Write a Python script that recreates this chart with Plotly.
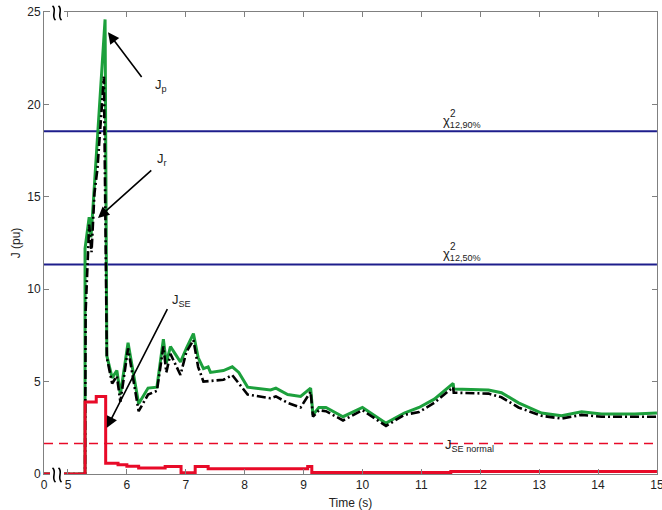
import plotly.graph_objects as go

# ---- data -------------------------------------------------------------
# J_p (green, solid)
jp_t = [0.0, 5.29, 5.29, 5.36, 5.39, 5.42, 5.63, 5.66, 5.75, 5.83, 5.89, 6.02,
        6.20, 6.36, 6.51, 6.62, 6.67, 6.74, 6.82, 6.91, 7.01, 7.13, 7.21, 7.30,
        7.38, 7.42, 7.64, 7.79, 7.90, 8.05, 8.44, 8.53, 8.73, 8.95, 9.12, 9.16,
        9.26, 9.38, 9.67, 10.00, 10.40, 10.71, 10.96, 11.22, 11.54, 11.55, 12.14,
        12.36, 12.65, 13.04, 13.38, 13.72, 14.06, 14.62, 15.00]
jp_v = [0.0, 0.0, 12.2, 13.9, 12.8, 14.2, 24.6, 6.4, 5.2, 5.6, 4.3, 7.1,
        3.8, 4.65, 4.7, 7.3, 6.0, 6.9, 6.5, 6.06, 6.8, 7.6, 6.3, 5.7,
        5.8, 5.5, 5.6, 5.8, 5.5, 4.7, 4.55, 4.65, 4.3, 4.2, 4.65, 3.2,
        3.6, 3.6, 3.1, 3.6, 2.75, 3.3, 3.6, 4.05, 4.9, 4.6, 4.55,
        4.4, 3.85, 3.3, 3.15, 3.37, 3.25, 3.25, 3.3]

# J_r (black, dash-dot)
jr_t = [0.0, 5.29, 5.30, 5.33, 5.36, 5.40, 5.45, 5.50, 5.61, 5.66, 5.75, 5.83,
        5.89, 6.02, 6.20, 6.36, 6.51, 6.62, 6.67, 6.74, 6.82, 6.91, 7.01, 7.13,
        7.21, 7.30, 7.64, 7.79, 8.05, 8.44, 8.53, 8.73, 8.95, 9.12, 9.16, 9.26,
        9.38, 9.67, 10.00, 10.40, 10.71, 10.96, 11.22, 11.54, 11.55, 12.14, 12.36,
        12.65, 13.04, 13.38, 13.72, 14.06, 14.62, 15.00]
jr_v = [0.0, 0.0, 8.8, 11.0, 13.5, 12.0, 15.2, 16.5, 21.5, 6.3, 4.9, 5.3,
        3.9, 6.8, 3.4, 4.3, 4.5, 6.9, 5.5, 6.5, 6.0, 5.36, 6.6, 7.25,
        5.8, 5.0, 5.1, 5.35, 4.3, 4.1, 4.2, 3.85, 3.6, 4.45, 3.1, 3.45,
        3.4, 2.9, 3.45, 2.6, 3.2, 3.35, 3.85, 4.7, 4.4, 4.35, 4.15,
        3.6, 3.15, 3.0, 3.2, 3.1, 3.1, 3.1]

# J_SE (red, step)
jse_t = [0.0, 5.29, 5.48, 5.64, 5.85, 6.00, 6.20, 6.65, 6.92, 7.16, 7.38, 9.07,
         9.14, 11.50, 15.00]
jse_v = [0.0, 3.9, 4.2, 0.58, 0.5, 0.42, 0.32, 0.4, 0.07, 0.4, 0.28, 0.4,
         0.08, 0.13, 0.13]

# thresholds
chi2_90 = 18.55
chi2_50 = 11.34
jse_normal = 1.65

x_ticks = [0, 5, 6, 7, 8, 9, 10, 11, 12, 13, 14, 15]
y_ticks = [0, 5, 10, 15, 20, 25]

# ---- broken time axis: 0..5 s squeezed into a short stub --------------
AX_START = 4.593   # axis position of t = 0


def axis_pos(t):
    return AX_START + t * (5 - AX_START) / 5 if t < 5 else t


def to_axis(ts):
    return [axis_pos(t) for t in ts]


GREEN = "rgb(28,160,60)"
RED = "rgb(232,10,40)"
NAVY = "rgb(30,30,140)"
FONT = "Liberation Sans, Arial, sans-serif"

W, H = 662, 510
ML, MR, MT, MB = 44, 5, 12, 36
PW, PH = W - ML - MR, H - MT - MB

fig = go.Figure()
x_full = [axis_pos(0), 15]

fig.add_trace(go.Scatter(x=x_full, y=[chi2_90] * 2, mode="lines",
                         line=dict(color=NAVY, width=2), showlegend=False))
fig.add_trace(go.Scatter(x=x_full, y=[chi2_50] * 2, mode="lines",
                         line=dict(color=NAVY, width=2), showlegend=False))
fig.add_trace(go.Scatter(x=x_full, y=[jse_normal] * 2, mode="lines",
                         line=dict(color=RED, width=1.5, dash="9px,6px"),
                         showlegend=False))
fig.add_trace(go.Scatter(x=to_axis(jp_t), y=jp_v, mode="lines",
                         line=dict(color=GREEN, width=3), showlegend=False))
fig.add_trace(go.Scatter(x=to_axis(jr_t), y=jr_v, mode="lines",
                         line=dict(color="black", width=2.6,
                                   dash="9px,3px,2px,3px"),
                         showlegend=False))
fig.add_trace(go.Scatter(x=to_axis(jse_t), y=jse_v, mode="lines",
                         line=dict(color=RED, width=3, shape="hv"),
                         showlegend=False))

axis_common = dict(showline=True, linecolor="#808080", linewidth=1,
                   mirror="ticks", ticks="inside", ticklen=5,
                   tickcolor="#808080", showgrid=False, zeroline=False,
                   automargin=False, ticklabeloverflow="allow",
                   tickfont=dict(family=FONT, size=12, color="#222"))

fig.update_xaxes(range=[AX_START, 15.001], tickmode="array",
                 tickvals=to_axis(x_ticks), ticktext=[str(v) for v in x_ticks],
                 title=dict(text="Time (s)", standoff=8,
                            font=dict(family=FONT, size=12, color="#222")),
                 **axis_common)
fig.update_yaxes(range=[0, 25], tickmode="array", tickvals=y_ticks,
                 ticktext=[str(v) for v in y_ticks],
                 title=dict(text="J (pu)", standoff=4,
                            font=dict(family=FONT, size=12, color="#222")),
                 **axis_common)

ann = []


def arrow(head, tail):
    ann.append(dict(x=head[0], y=head[1], ax=tail[0], ay=tail[1],
                    xref="x", yref="y", axref="x", ayref="y", text="",
                    showarrow=True, arrowhead=2, arrowsize=1.4,
                    arrowwidth=1.6, arrowcolor="black"))


def label(x, y, text, anchor="left", size=12):
    ann.append(dict(x=x, y=y, xref="x", yref="y", text=text,
                    showarrow=False, xanchor=anchor, yanchor="middle",
                    font=dict(family=FONT, size=size, color="#222")))


arrow((5.68, 23.9), (6.27, 21.4))
label(6.44, 21.0, "J<sub>p</sub>", size=13)
arrow((5.51, 13.85), (6.44, 16.5))
label(6.48, 17.0, "J<sub>r</sub>", size=13)
arrow((5.66, 2.5), (6.70, 9.0))
label(6.74, 9.4, "J<sub>SE</sub>", size=13)
label(11.37, 1.55, "J<sub>SE normal</sub>", size=13)

label(11.33, chi2_90 + 0.55, "χ<sub>12,90%</sub>", size=13)
label(11.45, chi2_90 + 0.98, "2", size=10)
label(11.33, chi2_50 + 0.55, "χ<sub>12,50%</sub>", size=13)
label(11.45, chi2_50 + 0.98, "2", size=10)


# ---- axis-break marks: two wavy strokes over a white gap ---------------
def px_to_paper(px, py):
    return (px - ML) / PW, (H - MB - py) / PH


def break_mark(cx, cy):
    shapes = []
    x0, y0 = px_to_paper(cx - 7, cy - 8)
    x1, y1 = px_to_paper(cx + 7, cy + 8)
    shapes.append(dict(type="rect", xref="paper", yref="paper",
                       x0=x0, x1=x1, y0=y0, y1=y1,
                       fillcolor="white", line=dict(width=0), layer="above"))
    for dx in (-3, 3):
        pts = [px_to_paper(cx + dx + ox, cy + oy) for ox, oy in
               ((-1.5, -7), (3.5, -3), (-3.5, 3), (1.5, 7))]
        path = "M {:.5f},{:.5f} C {:.5f},{:.5f} {:.5f},{:.5f} {:.5f},{:.5f}".format(
            *[c for p in pts for c in p])
        shapes.append(dict(type="path", xref="paper", yref="paper", path=path,
                           line=dict(color="black", width=1.6), layer="above"))
    return shapes


shapes = break_mark(57, 13) + break_mark(57, 475)

fig.update_layout(width=W, height=H, annotations=ann, shapes=shapes,
                  margin=dict(l=ML, r=MR, t=MT, b=MB),
                  paper_bgcolor="white", plot_bgcolor="white")

fig.write_html("out.html")
